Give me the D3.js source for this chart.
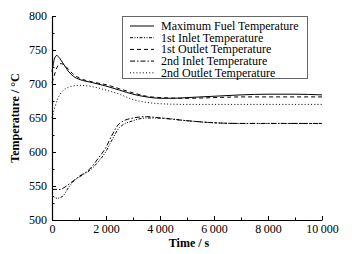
<!DOCTYPE html>
<html>
<head>
<meta charset="utf-8">
<script src="https://cdn.jsdelivr.net/npm/d3@7"></script>
<style>
  body { margin: 0; background: #fff; }
  svg { display: block; font-family: "Liberation Serif", "Times New Roman", serif; }
  .line { fill: none; stroke: #000; stroke-width: 1; }
</style>
</head>
<body>
<svg id="chart" width="352" height="254"></svg>
<script>
// time (s) / temperature (°C)
var fuelMax = [[0,718],[50,730],[120,740],[180,742],[260,739],[400,731],[600,719],[800,711],[1000,707],[1500,702],[2000,697],[2500,691],[3000,685],[3500,681],[4000,679],[4500,679],[5000,680],[6000,682],[7000,684],[8000,685],[9000,685],[10000,684]];
var inlet1 = [[0,536],[200,532],[400,535],[600,547],[800,557],[1000,563],[1400,573],[1700,585],[2000,601],[2200,616],[2500,636],[3000,646],[3500,650],[4000,650],[5000,646],[6000,643],[7000,642],[10000,642]];
var outlet1 = [[0,702],[80,712],[180,724],[300,730],[420,729],[600,722],[800,714],[1000,709],[1500,703],[2000,699],[2500,693],[3000,687],[3500,682],[4000,680],[5000,679],[6000,680],[7000,681],[8000,681],[10000,681]];
var inlet2 = [[0,545],[300,545],[500,549],[800,558],[1000,564],[1400,575],[1700,590],[2000,607],[2200,623],[2500,642],[3000,650],[3500,652],[4000,650],[5000,646],[6000,643],[7000,642],[10000,642]];
var outlet2 = [[0,650],[100,665],[200,677],[400,690],[600,695],[1000,698],[1500,696],[2000,691],[2500,685],[3000,677],[3500,673],[4000,671],[5000,670],[10000,670]];

var seriesNames = ["Maximum Fuel Temperature", "1st Inlet Temperature", "1st Outlet Temperature", "2nd Inlet Temperature", "2nd Outlet Temperature"];
var seriesData = [fuelMax, inlet1, outlet1, inlet2, outlet2];
var dashes = [null, "3,1.5,1,1.5,1,1.5", "4,3", "5,2,1.5,2", "1,2.2"];

var xTicks = [0, 2000, 4000, 6000, 8000, 10000];
var yTicks = [500, 550, 600, 650, 700, 750, 800];

var svg = d3.select('#chart');
var mLeft = 52, mRight = 322, mTop = 16, mBottom = 220;

var x = d3.scaleLinear().domain([0, 10000]).range([mLeft, mRight]);
var y = d3.scaleLinear().domain([500, 800]).range([mBottom, mTop]);

function fmt(v){
    var s = String(v);
    if (v >= 1000) s = s.slice(0, s.length - 3) + "\u2009" + s.slice(-3);
    return s;
}

// minor ticks
svg.append("g").attr("transform", "translate(0," + mBottom + ")")
    .call(d3.axisTop(x).tickValues(d3.range(1000, 10000, 2000)).tickSize(2.5).tickFormat(""))
    .call(function(g){ g.select(".domain").remove(); });
svg.append("g").attr("transform", "translate(" + mLeft + ",0)")
    .call(d3.axisRight(y).tickValues(d3.range(525, 800, 50)).tickSize(2.5).tickFormat(""))
    .call(function(g){ g.select(".domain").remove(); });

// major ticks
var xAxis = svg.append("g").attr("transform", "translate(0," + mBottom + ")")
    .call(d3.axisTop(x).tickValues(xTicks).tickSizeInner(4).tickSizeOuter(0).tickFormat(fmt));
xAxis.selectAll("text").attr("y", 13).attr("dy", 0).style("font-size", "12px").style("font-family", "Liberation Serif");

var yAxis = svg.append("g").attr("transform", "translate(" + mLeft + ",0)")
    .call(d3.axisRight(y).tickValues(yTicks).tickSizeInner(4).tickSizeOuter(0));
yAxis.selectAll("text").attr("x", -5).attr("text-anchor", "end").style("font-size", "12px").style("font-family", "Liberation Serif");

svg.selectAll(".domain").attr("stroke-width", 1.2);
svg.selectAll(".tick line").attr("stroke-width", 1);

// axis titles
svg.append("text").attr("x", (mLeft + mRight) / 2 + 2).attr("y", 247)
    .attr("text-anchor", "middle").attr("font-weight", "bold").attr("font-size", 12)
    .text("Time / s");
svg.append("text").attr("transform", "translate(19," + ((mTop + mBottom) / 2) + ") rotate(-90)")
    .attr("text-anchor", "middle").attr("font-weight", "bold").attr("font-size", 12)
    .text("Temperature / °C");

var line = d3.line()
    .x(function(d){ return x(d[0]); })
    .y(function(d){ return y(d[1]); })
    .curve(d3.curveMonotoneX);

seriesData.forEach(function(s, i){
    svg.append("path")
        .datum(s)
        .attr("class", "line")
        .attr("stroke-dasharray", dashes[i])
        .attr("d", line);
});

// legend
var lg = svg.append("g");
lg.append("rect").attr("x", 122.5).attr("y", 16.5).attr("width", 185).attr("height", 62)
    .attr("fill", "#fff").attr("stroke", "#666").attr("stroke-width", 1);
seriesNames.forEach(function(name, i){
    var ly = 26 + i * 11.7;
    lg.append("line").attr("x1", 130).attr("x2", 154).attr("y1", ly).attr("y2", ly)
        .attr("class", "line").attr("stroke-dasharray", dashes[i]);
    lg.append("text").attr("x", 161).attr("y", ly + 4).attr("font-size", 12).text(name);
});
</script>
</body>
</html>
